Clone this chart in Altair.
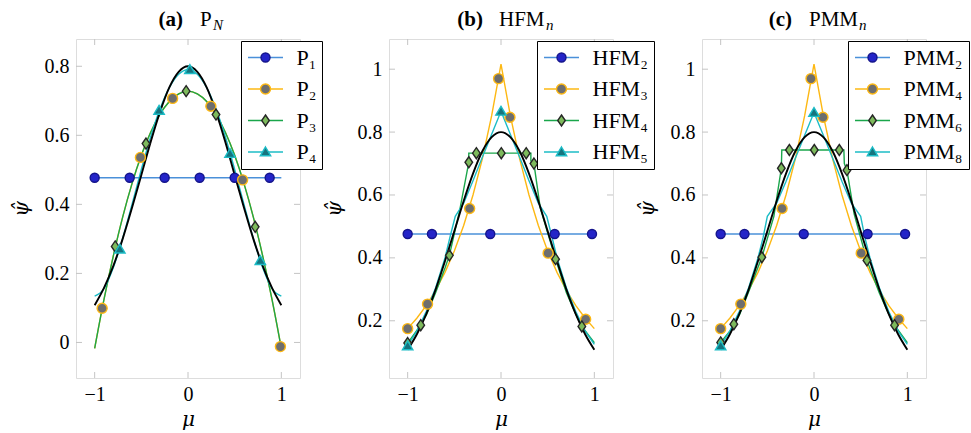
import altair as alt
import pandas as pd

SERIF = "Liberation Serif"
MATH = "DejaVu Serif"
W, H = 224, 339
SYM_SIZE = 400

# ---------------- axes ----------------
X_DOMAIN = [-1.2, 1.2]
Y_DOMAIN_A = [-0.103, 0.879]
Y_DOMAIN_BC = [0.018, 1.096]
X_TICKS = [-1, 0, 1]
Y_TICKS_A = [0, 0.2, 0.4, 0.6, 0.8]
Y_TICKS_BC = [0.2, 0.4, 0.6, 0.8, 1]

# ---------------- reference solution (black) ----------------
MU_GRID = [-1.0, -0.9, -0.8, -0.7, -0.6, -0.5, -0.4, -0.3, -0.2, -0.1, 0.0,
           0.1, 0.2, 0.3, 0.4, 0.5, 0.6, 0.7, 0.8, 0.9, 1.0]
REF_V = [0.108, 0.158, 0.222, 0.300, 0.390, 0.485, 0.581, 0.668, 0.739, 0.784, 0.800,
         0.784, 0.739, 0.668, 0.581, 0.485, 0.390, 0.300, 0.222, 0.158, 0.108]

# ---------------- panel (a) P_N ----------------
A_NAMES = ["P₁", "P₂", "P₃", "P₄"]
P1_MU = [-1.0, 1.0]
P1_V = [0.477, 0.477]
P23_V = [-0.017, 0.125, 0.251, 0.363, 0.460, 0.542, 0.609, 0.661, 0.698, 0.720, 0.728,
         0.720, 0.698, 0.661, 0.609, 0.542, 0.460, 0.363, 0.251, 0.125, -0.017]
P4_V = [0.134, 0.156, 0.217, 0.302, 0.400, 0.501, 0.596, 0.676, 0.738, 0.777, 0.790,
        0.777, 0.738, 0.676, 0.596, 0.501, 0.400, 0.302, 0.217, 0.156, 0.134]
P1_MK_MU = [-1.0, -0.625, -0.25, 0.125, 0.5, 0.875]
P1_MK_V = [0.477, 0.477, 0.477, 0.477, 0.477, 0.477]
P2_MK_MU = [-0.92, -0.51, -0.165, 0.245, 0.585, 0.99]
P2_MK_V = [0.099, 0.536, 0.707, 0.684, 0.471, -0.012]
P3_MK_MU = [-0.78, -0.45, -0.02, 0.30, 0.72]
P3_MK_V = [0.278, 0.576, 0.728, 0.660, 0.335]
P4_MK_MU = [-0.73, -0.31, 0.02, 0.45, 0.775]
P4_MK_V = [0.270, 0.672, 0.790, 0.547, 0.237]

# ---------------- panel (b) HFM_n ----------------
B_NAMES = ["HFM₂", "HFM₃", "HFM₄", "HFM₅"]
HFM2_MU = [-1.0, 1.0]
HFM2_V = [0.476, 0.476]
HFM3_V = [0.175, 0.209, 0.249, 0.297, 0.354, 0.422, 0.503, 0.600, 0.715, 0.852, 1.016,
          0.852, 0.715, 0.600, 0.503, 0.422, 0.354, 0.297, 0.249, 0.209, 0.175]
HFM4_MU = [-1.0, -0.9, -0.8, -0.7, -0.6, -0.553, -0.44, -0.345, -0.345, 0.32, 0.32,
           0.353, 0.42, 0.5, 0.585, 0.7, 0.8, 0.866, 1.0]
HFM4_V = [0.129, 0.170, 0.218, 0.290, 0.368, 0.408, 0.555, 0.704, 0.733, 0.733, 0.708,
          0.700, 0.560, 0.480, 0.396, 0.290, 0.222, 0.182, 0.130]
HFM5_MU = [-1.0, -0.9, -0.8, -0.7, -0.6, -0.545, -0.49, -0.4, -0.3, -0.2, -0.1, 0.0,
           0.1, 0.2, 0.3, 0.4, 0.49, 0.545, 0.6, 0.7, 0.8, 0.9, 1.0]
HFM5_V = [0.120, 0.168, 0.230, 0.305, 0.400, 0.468, 0.532, 0.574, 0.645, 0.720, 0.793, 0.866,
          0.793, 0.720, 0.645, 0.574, 0.532, 0.468, 0.400, 0.305, 0.230, 0.168, 0.125]
HFM2_MK_MU = [-1.0, -0.74, -0.115, 0.575, 0.975]
HFM2_MK_V = [0.476, 0.476, 0.476, 0.476, 0.476]
HFM3_MK_MU = [-1.0, -0.787, -0.336, -0.026, 0.096, 0.505, 0.907]
HFM3_MK_V = [0.175, 0.253, 0.557, 0.970, 0.847, 0.415, 0.205]
HFM4_MK_MU = [-1.0, -0.86, -0.553, -0.345, -0.264, 0.003, 0.27, 0.353, 0.585, 0.866]
HFM4_MK_V = [0.129, 0.186, 0.408, 0.704, 0.733, 0.733, 0.733, 0.700, 0.396, 0.182]
HFM5_MK_MU = [-1.0, 0.0]
HFM5_MK_V = [0.120, 0.866]

# ---------------- panel (c) PMM_n ----------------
C_NAMES = ["PMM₂", "PMM₄", "PMM₆", "PMM₈"]
PMM2_MU = [-1.0, 1.0]
PMM2_V = [0.476, 0.476]
PMM4_V = [0.175, 0.209, 0.249, 0.297, 0.354, 0.422, 0.503, 0.600, 0.715, 0.852, 1.016,
          0.852, 0.715, 0.600, 0.503, 0.422, 0.354, 0.297, 0.249, 0.209, 0.175]
PMM6_MU = [-1.0, -0.9, -0.8, -0.7, -0.559, -0.43, -0.35, -0.345, 0.32, 0.325, 0.353,
           0.43, 0.567, 0.7, 0.8, 0.863, 1.0]
PMM6_V = [0.131, 0.168, 0.218, 0.292, 0.402, 0.532, 0.685, 0.743, 0.743, 0.700, 0.679,
          0.540, 0.392, 0.288, 0.222, 0.186, 0.130]
PMM8_MU = [-1.0, -0.9, -0.8, -0.7, -0.6, -0.545, -0.5, -0.4, -0.3, -0.2, -0.1, 0.0,
           0.1, 0.2, 0.3, 0.4, 0.5, 0.545, 0.6, 0.7, 0.8, 0.9, 1.0]
PMM8_V = [0.120, 0.168, 0.230, 0.305, 0.400, 0.465, 0.532, 0.574, 0.643, 0.717, 0.790, 0.862,
          0.790, 0.717, 0.643, 0.574, 0.532, 0.465, 0.400, 0.305, 0.230, 0.168, 0.125]
PMM2_MK_MU = [-1.0, -0.745, -0.11, 0.574, 0.976]
PMM2_MK_V = [0.476, 0.476, 0.476, 0.476, 0.476]
PMM4_MK_MU = [-1.0, -0.784, -0.342, -0.032, 0.096, 0.506, 0.909]
PMM4_MK_V = [0.175, 0.253, 0.557, 0.970, 0.847, 0.415, 0.205]
PMM6_MK_MU = [-1.0, -0.859, -0.559, -0.35, -0.264, 0.003, 0.271, 0.353, 0.567, 0.863]
PMM6_MK_V = [0.131, 0.189, 0.402, 0.685, 0.743, 0.743, 0.743, 0.679, 0.392, 0.186]
PMM8_MK_MU = [-1.0, 0.0]
PMM8_MK_V = [0.120, 0.862]

# ---------------- titles ----------------
TITLE_A = ["(a)", "P", "N"]
TITLE_B = ["(b)", "HFM", "n"]
TITLE_C = ["(c)", "PMM", "n"]

# ---------------- styles ----------------
LINE_COLORS = ["#4a90d9", "#fdb813", "#1aa64b", "#1cbcc6"]
MARK_FILL = ["#2424c8", "#6e6e6e", "#7dba5c", "#15747e"]
MARK_STROKE = ["#14148c", "#fdb813", "#262626", "#1cbcc6"]
CIRCLE = "M0.45,0A0.45,0.45,0,1,1,-0.45,0A0.45,0.45,0,1,1,0.45,0Z"
BIG_CIRCLE = "M0.5,0A0.5,0.5,0,1,1,-0.5,0A0.5,0.5,0,1,1,0.5,0Z"
DIAMOND = "M0,-0.55L0.38,0L0,0.55L-0.38,0Z"
TRIANGLE = "M0,-0.5L0.52,0.38L-0.52,0.38Z"
SHAPES = [CIRCLE, BIG_CIRCLE, DIAMOND, TRIANGLE]
LEG_LINE = "M-1.75,0L1.75,0"


def long_df(names, mus, vals, field):
    rows = []
    for name, ms, vs in zip(names, mus, vals):
        for i, (m, v) in enumerate(zip(ms, vs)):
            rows.append({field: name, "mu": m, "v": v, "i": i})
    return pd.DataFrame(rows)


def legend(x, lines):
    kw = dict(title=None, orient="none", legendX=x, legendY=2,
              symbolSize=SYM_SIZE, symbolStrokeWidth=1.4, symbolOffset=8,
              labelOffset=20, labelFont=SERIF, labelFontSize=22, labelColor="black",
              padding=5.5, rowPadding=9.5, symbolOpacity=1)
    if lines:
        kw.update(symbolType=LEG_LINE, fillColor="white", strokeColor="black")
    else:
        kw.update(labelOpacity=0)
    return alt.Legend(**kw)


def panel(names, line_mu, line_v, mk_mu, mk_v, y_domain, y_ticks, leg_x,
          title, title_pos, interp):
    xs = alt.Scale(domain=X_DOMAIN, nice=False, zero=False)
    ys = alt.Scale(domain=y_domain, nice=False, zero=False)
    common = dict(domain=False, ticks=False, tickSize=0, grid=False,
                  labelFont=SERIF, labelFontSize=20, labelColor="black",
                  titleFont=MATH, titleFontSize=20, titleFontWeight="normal",
                  titleFontStyle="italic", titleColor="black", format="~g")
    x_axis = alt.Axis(values=X_TICKS, title="μ", labelPadding=6, titlePadding=5, **common)
    y_axis = alt.Axis(values=y_ticks, title="ψ̂", labelPadding=7, titlePadding=13, **common)

    ytick = pd.DataFrame({"t": y_ticks})
    xtick = pd.DataFrame({"t": X_TICKS})
    tick_style = dict(color="#c4c4c4", strokeWidth=1)
    yt_l = alt.Chart(ytick).mark_rule(**tick_style).encode(
        y=alt.Y("t:Q", scale=ys, axis=y_axis), x=alt.value(0), x2=alt.value(6))
    yt_r = alt.Chart(ytick).mark_rule(**tick_style).encode(
        y=alt.Y("t:Q", scale=ys, axis=y_axis), x=alt.value(W - 6), x2=alt.value(W))
    xt_b = alt.Chart(xtick).mark_rule(**tick_style).encode(
        x=alt.X("t:Q", scale=xs, axis=x_axis), y=alt.value(H - 6), y2=alt.value(H))
    xt_t = alt.Chart(xtick).mark_rule(**tick_style).encode(
        x=alt.X("t:Q", scale=xs, axis=x_axis), y=alt.value(0), y2=alt.value(6))

    ldf = long_df(names, line_mu, line_v, "ls")
    mdf = long_df(names, mk_mu, mk_v, "ms")
    rdf = pd.DataFrame({"mu": MU_GRID, "v": REF_V})

    X = alt.X("mu:Q", scale=xs, axis=x_axis)
    Y = alt.Y("v:Q", scale=ys, axis=y_axis)

    lines = alt.Chart(ldf).mark_line(strokeWidth=1.4, interpolate=interp).encode(
        x=X, y=Y,
        color=alt.Color("ls:N", scale=alt.Scale(range=LINE_COLORS), legend=legend(leg_x, True)),
        order=alt.Order("i:Q"),
    )
    ref = alt.Chart(rdf).mark_line(color="black", strokeWidth=1.9, interpolate="monotone").encode(
        x=X, y=Y)
    mleg = legend(leg_x, False)
    pts = alt.Chart(mdf).mark_point(filled=True, size=SYM_SIZE, strokeWidth=1.4, opacity=1).encode(
        x=X, y=Y,
        shape=alt.Shape("ms:N", scale=alt.Scale(range=SHAPES), legend=mleg),
        fill=alt.Fill("ms:N", scale=alt.Scale(range=MARK_FILL), legend=mleg),
        stroke=alt.Stroke("ms:N", scale=alt.Scale(range=MARK_STROKE), legend=mleg),
    )

    tdf = pd.DataFrame({"t": title})
    (x0, x1, x2) = title_pos
    t0 = alt.Chart(tdf.iloc[[0]]).mark_text(
        font=SERIF, fontSize=21, fontWeight="bold", align="right", baseline="alphabetic"
    ).encode(text="t:N", x=alt.value(x0), y=alt.value(-13))
    t1 = alt.Chart(tdf.iloc[[1]]).mark_text(
        font=SERIF, fontSize=21, align="left", baseline="alphabetic"
    ).encode(text="t:N", x=alt.value(x1), y=alt.value(-13))
    t2 = alt.Chart(tdf.iloc[[2]]).mark_text(
        font=SERIF, fontSize=15, fontStyle="italic", align="left", baseline="alphabetic"
    ).encode(text="t:N", x=alt.value(x2), y=alt.value(-9))

    return alt.layer(yt_l, yt_r, xt_b, xt_t, lines, ref, pts, t0, t1, t2).properties(
        width=W, height=H)


pa = panel(A_NAMES,
           [P1_MU, MU_GRID, MU_GRID, MU_GRID],
           [P1_V, P23_V, P23_V, P4_V],
           [P1_MK_MU, P2_MK_MU, P3_MK_MU, P4_MK_MU],
           [P1_MK_V, P2_MK_V, P3_MK_V, P4_MK_V],
           Y_DOMAIN_A, Y_TICKS_A, 165, TITLE_A, (107, 124, 137), "monotone")
pb = panel(B_NAMES,
           [HFM2_MU, MU_GRID, HFM4_MU, HFM5_MU],
           [HFM2_V, HFM3_V, HFM4_V, HFM5_V],
           [HFM2_MK_MU, HFM3_MK_MU, HFM4_MK_MU, HFM5_MK_MU],
           [HFM2_MK_V, HFM3_MK_V, HFM4_MK_V, HFM5_MK_V],
           Y_DOMAIN_BC, Y_TICKS_BC, 148, TITLE_B, (94, 110, 157), "linear")
pc = panel(C_NAMES,
           [PMM2_MU, MU_GRID, PMM6_MU, PMM8_MU],
           [PMM2_V, PMM4_V, PMM6_V, PMM8_V],
           [PMM2_MK_MU, PMM4_MK_MU, PMM6_MK_MU, PMM8_MK_MU],
           [PMM2_MK_V, PMM4_MK_V, PMM6_MK_V, PMM8_MK_V],
           Y_DOMAIN_BC, Y_TICKS_BC, 146, TITLE_C, (90, 107, 157), "linear")

chart = alt.hconcat(pa, pb, pc, spacing=89).resolve_scale(
    x="independent", y="independent", color="independent",
    fill="independent", stroke="independent", shape="independent",
).resolve_legend(
    color="independent", fill="independent", stroke="independent", shape="independent",
).properties(
    bounds="flush",
    padding={"left": 10, "top": 8, "right": 0, "bottom": 0},
).configure_view(
    stroke="#222222", strokeWidth=1.2, fill="white",
).configure(background="white")

chart.save("out.html", embed_options={"renderer": "svg", "actions": False})
